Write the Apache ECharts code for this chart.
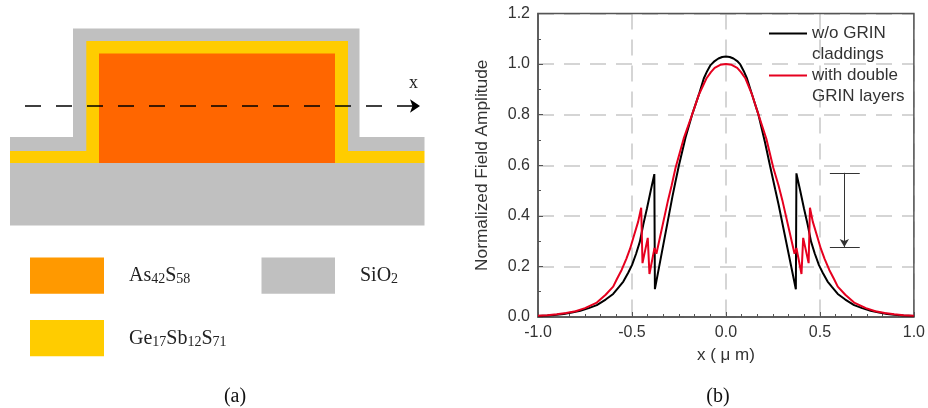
<!DOCTYPE html>
<html><head><meta charset="utf-8">
<style>html,body{margin:0;padding:0;background:#fff}#c{width:928px;height:408px}</style>
<script src="https://cdn.jsdelivr.net/npm/echarts@6/dist/echarts.min.js"></script>
</head><body><div id="c"></div>
<script>
// Panel (b): field amplitude curves
const xBlack = [-1,-0.95,-0.9,-0.863,-0.82,-0.775,-0.73,-0.687,-0.64,-0.6,-0.57,-0.546,-0.52,-0.5,-0.478,-0.458,-0.44,-0.42,-0.4,-0.381,-0.378,-0.285,-0.27,-0.25,-0.215,-0.18,-0.145,-0.118,-0.1,-0.082,-0.06,-0.04,-0.02,0,
 0.02,0.04,0.06,0.075,0.095,0.112,0.14,0.173,0.208,0.234,0.262,0.28,0.372,0.375,0.395,0.415,0.435,0.453,0.473,0.495,0.515,0.541,0.565,0.595,0.635,0.682,0.725,0.77,0.815,0.858,0.895,0.945,1];
const yBlack = [0.004,0.006,0.009,0.012,0.018,0.025,0.035,0.047,0.069,0.091,0.118,0.14,0.175,0.205,0.25,0.298,0.365,0.43,0.5,0.565,0.11,0.475,0.53,0.6,0.71,0.8,0.877,0.943,0.972,0.996,1.012,1.022,1.028,1.03,
 1.028,1.022,1.012,1,0.972,0.943,0.877,0.8,0.69,0.6,0.505,0.445,0.11,0.568,0.5,0.43,0.365,0.298,0.25,0.205,0.175,0.14,0.118,0.091,0.069,0.047,0.035,0.025,0.018,0.012,0.009,0.006,0.004];
const xRed = [-1,-0.95,-0.9,-0.85,-0.8,-0.75,-0.687,-0.64,-0.6,-0.58,-0.555,-0.53,-0.51,-0.49,-0.467,-0.451,-0.444,-0.416,-0.407,-0.38,-0.37,-0.308,-0.289,-0.268,-0.225,-0.18,-0.145,-0.104,-0.08,-0.06,-0.03,0,
 0.03,0.06,0.08,0.104,0.14,0.173,0.215,0.252,0.28,0.3,0.365,0.375,0.402,0.411,0.44,0.447,0.462,0.485,0.505,0.525,0.55,0.575,0.595,0.635,0.682,0.745,0.795,0.845,0.895,0.945,1];
const yRed = [0.005,0.007,0.011,0.016,0.023,0.035,0.057,0.088,0.12,0.15,0.186,0.23,0.27,0.32,0.377,0.432,0.213,0.313,0.17,0.273,0.25,0.462,0.52,0.59,0.705,0.8,0.877,0.943,0.968,0.985,0.997,1,
 0.997,0.985,0.968,0.943,0.877,0.8,0.705,0.59,0.52,0.462,0.25,0.273,0.17,0.313,0.213,0.432,0.377,0.32,0.27,0.23,0.186,0.15,0.12,0.088,0.057,0.035,0.023,0.016,0.011,0.007,0.005];
const seriesNames = ['w/o GRIN\ncladdings','with double\nGRIN layers'];
const xTicks = [-1,-0.5,0,0.5,1];
const yTicks = [0,0.2,0.4,0.6,0.8,1,1.2];
const markerX = [0.553,0.712];
const markerShaft = 0.63;
const markerY = [0.57,0.277];
const axisTitleX = 'x ( μ m)';
const axisTitleY = 'Normalized Field Amplitude';
// Panel (a): layers as [left, top, right, bottom, material]
const layers = [
 [73,28.5,359.5,137,'oxide'],[10,137,424.5,151,'oxide'],[86.3,41,348,151,'clad'],[10,151,424.5,163,'clad'],
 [99,53.5,335,163,'core'],[10,163,424.5,225.5,'oxide']];
const swatches = [[30,257.5,104,293.7,'coreKey'],[261.5,257.5,335,293.7,'oxide'],[30,320,104,356.3,'clad']];
const materialColors = {oxide:'#c0c0c0',clad:'#ffcc00',core:'#ff6600',coreKey:'#ff9900'};
const axisLineX = [25,420]; const axisLineY = 106;

const zip=(a,b)=>a.map((v,i)=>[v,b[i]]);
const rectSeries=(data,name)=>({type:'custom',name,xAxisIndex:1,yAxisIndex:1,silent:true,data,
 renderItem:(p,api)=>{const d=data[p.dataIndex];const a=api.coord([d[0],d[1]]),b=api.coord([d[2],d[3]]);
  return {type:'rect',shape:{x:a[0],y:a[1],width:b[0]-a[0],height:b[1]-a[1]},style:{fill:materialColors[d[4]]}};},
 encode:{x:[0,2],y:[1,3]}});
const sub={fontFamily:'Liberation Serif',fontSize:14,fill:'#222',verticalAlign:'bottom',lineHeight:14,padding:[6,0,0,0]};
const base={fontFamily:'Liberation Serif',fontSize:20,fill:'#222',verticalAlign:'bottom',lineHeight:20};
const chem=(text,left,top)=>({type:'text',left,top,style:{text,fontFamily:'Liberation Serif',fontSize:20,fill:'#222',rich:{b:base,s:sub}}});
const cap=(text,cx,top)=>({type:'text',x:cx,y:top,style:{text,align:'center',fontFamily:'Liberation Serif',fontSize:20,fill:'#111'}});
const font='"Liberation Sans",Arial,sans-serif';
const chart=echarts.init(document.getElementById('c'));
chart.setOption({animation:false,backgroundColor:'#fff',
 grid:[{left:538,right:12,top:13.5,bottom:91,show:true,borderColor:'#555',borderWidth:1.5,backgroundColor:'transparent',z:3},
       {left:0,top:0,width:450,height:408,show:false}],
 xAxis:[{type:'value',gridIndex:0,min:xTicks[0],max:xTicks[4],interval:0.5,name:axisTitleX,nameLocation:'middle',nameGap:30,
   nameTextStyle:{fontFamily:font,fontSize:17,color:'#333'},
   axisLine:{show:true,onZero:false,lineStyle:{color:'#555',width:1.5}},axisTick:{show:true,inside:true,length:5,lineStyle:{color:'#555'}},
   minorTick:{show:true,splitNumber:6,length:3,lineStyle:{color:'#555'}},
   axisLabel:{fontFamily:font,fontSize:16,color:'#333',margin:8,formatter:v=>v.toFixed(1),showMinLabel:true,showMaxLabel:true,hideOverlap:false},
   splitLine:{show:true,lineStyle:{color:'#c8c8c8',width:1.5,type:[16,10]}}},
  {type:'value',gridIndex:1,min:0,max:450,show:false}],
 yAxis:[{type:'value',gridIndex:0,min:yTicks[0],max:yTicks[6],interval:0.2,name:axisTitleY,nameLocation:'middle',nameGap:47,
   nameTextStyle:{fontFamily:font,fontSize:17.3,color:'#333'},
   axisLine:{show:true,onZero:false,lineStyle:{color:'#555',width:1.5}},axisTick:{show:true,inside:true,length:5,lineStyle:{color:'#555'}},
   minorTick:{show:true,splitNumber:2,length:3,lineStyle:{color:'#555'}},
   axisLabel:{fontFamily:font,fontSize:16,color:'#333',margin:8,formatter:v=>v.toFixed(1),showMinLabel:true,showMaxLabel:true},
   splitLine:{show:true,lineStyle:{color:'#c8c8c8',width:1.5,type:[16,10]}}},
  {type:'value',gridIndex:1,min:0,max:408,inverse:true,show:false}],
 legend:{show:true,data:seriesNames.map(name=>({name,icon:'rect'})),orient:'vertical',left:769,top:2,padding:0,itemWidth:38,itemHeight:2,itemGap:-21,selectedMode:false,
   formatter:n=>'\n'+n,textStyle:{fontFamily:font,fontSize:17,color:'#333',lineHeight:21}},
 series:[
  rectSeries(layers,'Waveguide layers'),rectSeries(swatches,'Material key'),
  {type:'line',name:'Scan line',xAxisIndex:1,yAxisIndex:1,data:[],silent:true,
   markLine:{silent:true,animation:false,symbol:['none','arrow'],symbolSize:[10,10],label:{show:false},
    lineStyle:{color:'#000',width:1.5,type:[16,15]},data:[[{coord:[axisLineX[0],axisLineY]},{coord:[axisLineX[1],axisLineY]}]]}},
  {type:'line',name:seriesNames[0],xAxisIndex:0,yAxisIndex:0,data:zip(xBlack,yBlack),showSymbol:false,symbol:'none',lineStyle:{color:'#000',width:2},itemStyle:{color:'#000'},z:5,
   markLine:{silent:true,animation:false,symbol:'none',label:{show:false},lineStyle:{color:'#333',width:1,type:'solid'},
    data:[[{coord:[markerX[0],markerY[0]]},{coord:[markerX[1],markerY[0]]}],[{coord:[markerX[0],markerY[1]]},{coord:[markerX[1],markerY[1]]}]]}},
  {type:'line',name:seriesNames[1],xAxisIndex:0,yAxisIndex:0,data:zip(xRed,yRed),showSymbol:false,symbol:'none',lineStyle:{color:'#e6001f',width:2},itemStyle:{color:'#e6001f'},z:6,
   markLine:{silent:true,animation:false,symbol:['none','arrow'],symbolSize:[7,8],label:{show:false},lineStyle:{color:'#333',width:1,type:'solid'},
    data:[[{coord:[markerShaft,markerY[0]]},{coord:[markerShaft,markerY[1]]}]]}}
 ],
 graphic:[
  chem('{b|As}{s|42}{b|S}{s|58}',129,266),
  chem('{b|SiO}{s|2}',360,266),
  chem('{b|Ge}{s|17}{b|Sb}{s|12}{b|S}{s|71}',129,329),
  {type:'text',left:409,top:74,style:{text:'x',fontFamily:'Liberation Serif',fontSize:18,fill:'#222'}},
  cap('(a)',235,387),cap('(b)',718,387)
 ]});
</script></body></html>
